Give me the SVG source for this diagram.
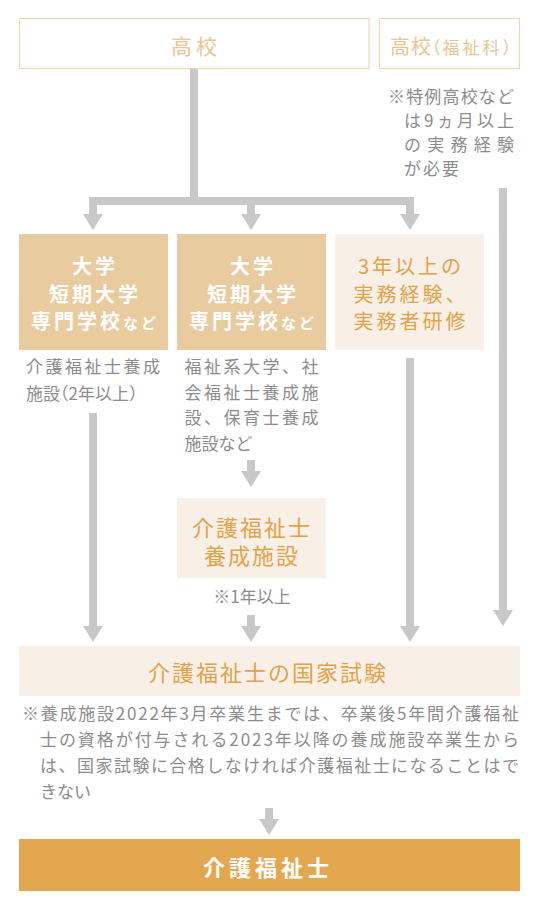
<svg xmlns="http://www.w3.org/2000/svg" width="540" height="914" viewBox="0 0 540 914">
<defs>
<style>
text{font-family:"Noto Sans CJK JP","Noto Sans",sans-serif}
.outline{fill:#ffffff;stroke:#f0d8b2;stroke-width:1.2}
.solid{fill:#e9cba0}
.pale{fill:#f8f0e6}
.gold{fill:#e3a84f}
.hs{fill:#e8c592;font-size:21px;letter-spacing:4px}
.wb{fill:#ffffff;font-size:20px;font-weight:700;letter-spacing:3px}
.or{fill:#e1a24a;font-size:20px;letter-spacing:3px}
.or22{fill:#e1a24a;font-size:22px;letter-spacing:2px}
.note{fill:#8c8c8c;font-size:17px}
.halt{font-feature-settings:"halt"}
.conn{stroke:#c8c8c8;stroke-width:8;fill:none;stroke-linejoin:miter;stroke-linecap:butt}
</style>
<marker id="ah" viewBox="0 0 16 20" refX="0" refY="10" markerWidth="16" markerHeight="20" markerUnits="userSpaceOnUse" orient="auto">
<path d="M0,0 L16,10 L0,20 Z" fill="#c8c8c8"/>
</marker>
</defs>
<rect width="540" height="914" fill="#ffffff"/>

<g id="connectors">
<path class="conn" d="M194,69 V201"/>
<path class="conn" d="M93,214 V201 H410 V214"/>
<path class="conn" d="M93,205 V214" marker-end="url(#ah)"/>
<path class="conn" d="M251,201 V214" marker-end="url(#ah)"/>
<path class="conn" d="M410,205 V214" marker-end="url(#ah)"/>
<path class="conn" d="M503,188 V610" marker-end="url(#ah)"/>
<path class="conn" d="M93,413 V626" marker-end="url(#ah)"/>
<path class="conn" d="M410,358 V626" marker-end="url(#ah)"/>
<path class="conn" d="M251,460 V471" marker-end="url(#ah)"/>
<path class="conn" d="M251,615 V626" marker-end="url(#ah)"/>
<path class="conn" d="M269,808 V819" marker-end="url(#ah)"/>
</g>

<g id="koukou">
<rect class="outline" x="19.5" y="18.5" width="349.5" height="50"/>
<text class="hs" x="196" y="54" text-anchor="middle">高校</text>
</g>

<g id="koukou-fukushi">
<rect class="outline" x="379.5" y="18.5" width="140" height="50"/>
<text x="390" y="54" fill="#e8c592"><tspan font-size="20" letter-spacing="1">高校</tspan><tspan class="halt" font-size="17" letter-spacing="2">（</tspan><tspan font-size="17" letter-spacing="3">福祉科）</tspan></text>
<text class="note" x="388" y="103" textLength="126" lengthAdjust="spacing">※特例高校など</text>
<text class="note" x="404" y="127" textLength="110" lengthAdjust="spacing">は9ヵ月以上</text>
<text class="note" x="404" y="151" textLength="110" lengthAdjust="spacing">の実務経験</text>
<text class="note" x="404" y="175" letter-spacing="2">が必要</text>
</g>

<g id="daigaku1">
<rect class="solid" x="19" y="234" width="149" height="116"/>
<text class="wb" x="95" y="274" text-anchor="middle">大学</text>
<text class="wb" x="95" y="302" text-anchor="middle">短期大学</text>
<text class="wb" x="95" y="329" text-anchor="middle">専門学校<tspan font-size="15">など</tspan></text>
<text class="note" x="26" y="373" textLength="134" lengthAdjust="spacing">介護福祉士養成</text>
<text class="note" x="26" y="399.5">施設<tspan class="halt">（</tspan>2年以上）</text>
</g>

<g id="daigaku2">
<rect class="solid" x="177" y="234" width="149" height="116"/>
<text class="wb" x="253" y="274" text-anchor="middle">大学</text>
<text class="wb" x="253" y="302" text-anchor="middle">短期大学</text>
<text class="wb" x="253" y="329" text-anchor="middle">専門学校<tspan font-size="15">など</tspan></text>
<text class="note" x="184.5" y="373" textLength="134" lengthAdjust="spacing">福祉系大学、社</text>
<text class="note" x="184.5" y="398.5" textLength="134" lengthAdjust="spacing">会福祉士養成施</text>
<text class="note" x="184.5" y="424" textLength="134" lengthAdjust="spacing">設、保育士養成</text>
<text class="note" x="184.5" y="449.5">施設など</text>
</g>

<g id="jitsumu">
<rect class="pale" x="335" y="234" width="149" height="116"/>
<text class="or" x="411" y="274" text-anchor="middle">3年以上の</text>
<text class="or" x="411" y="302" text-anchor="middle">実務経験、</text>
<text class="or" x="411" y="329" text-anchor="middle">実務者研修</text>
</g>

<g id="yousei">
<rect class="pale" x="177" y="498" width="149" height="80"/>
<text class="or22" x="252" y="536" text-anchor="middle">介護福祉士</text>
<text class="or22" x="252" y="564" text-anchor="middle">養成施設</text>
<text class="note" x="252" y="603" text-anchor="middle" font-size="16">※1年以上</text>
</g>

<g id="shiken">
<rect class="pale" x="19" y="646" width="501" height="50"/>
<text class="or22" x="268" y="681" text-anchor="middle" letter-spacing="1.7">介護福祉士の国家試験</text>
<text class="note" x="22" y="719.5" textLength="497" lengthAdjust="spacing">※養成施設2022年3月卒業生までは、卒業後5年間介護福祉</text>
<text class="note" x="40" y="745.5" textLength="479" lengthAdjust="spacing">士の資格が付与される2023年以降の養成施設卒業生から</text>
<text class="note" x="40" y="771.5" textLength="479" lengthAdjust="spacing">は、国家試験に合格しなければ介護福祉士になることはで</text>
<text class="note" x="40" y="797.5">きない</text>
</g>

<g id="kaigofukushishi">
<rect class="gold" x="19" y="839" width="501" height="52"/>
<text x="268" y="875.5" text-anchor="middle" fill="#ffffff" font-size="22" font-weight="700" letter-spacing="4">介護福祉士</text>
</g>
</svg>
